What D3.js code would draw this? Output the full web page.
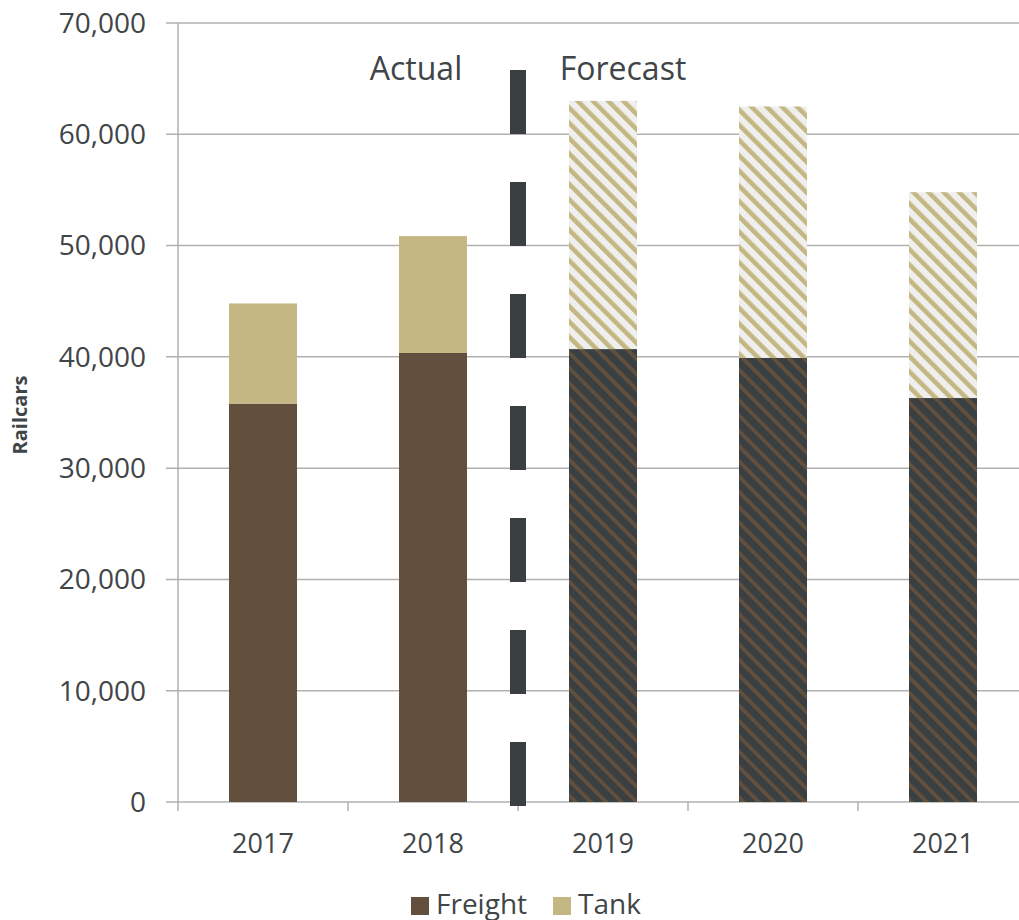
<!DOCTYPE html>
<html>
<head>
<meta charset="utf-8">
<script src="https://cdn.jsdelivr.net/npm/d3@7"></script>
<style>
  html, body { margin: 0; padding: 0; background: #fff; }
  svg { display: block; font-family: "Open Sans", sans-serif; }
</style>
</head>
<body>
<svg id="chart" width="1019" height="920"></svg>
<script>
const years = ["2017", "2018", "2019", "2020", "2021"];
const freight = [35800, 40350, 40700, 39900, 36300];
const tank = [9000, 10500, 22300, 22600, 18500];
const isForecast = [false, false, true, true, true];
const yTicks = [0, 10000, 20000, 30000, 40000, 50000, 60000, 70000];
const seriesNames = ["Freight", "Tank"];

const colFreight = "#634f3d";
const colTank = "#c5b783";
const colDark = "#3a3f42";
const colLight = "#eff0ee";
const textCol = "#404548";
const gridCol = "#b0b0b0";

const svg = d3.select("#chart");
const defs = svg.append("defs");

function stripe(id, bg, fg, w) {
  const s = 10.8;
  const p = defs.append("pattern").attr("id", id)
    .attr("patternUnits", "userSpaceOnUse")
    .attr("width", s).attr("height", s)
    .attr("patternTransform", "rotate(-45)");
  p.append("rect").attr("width", s).attr("height", s).attr("fill", bg);
  p.append("rect").attr("x", 0).attr("width", w).attr("height", s).attr("fill", fg);
}
stripe("hatchFreight", colDark, colFreight, 3.8);
stripe("hatchTank", colLight, colTank, 4.6);

const x = d3.scaleBand().domain(years).range([178, 1028]).paddingInner(0.6).paddingOuter(0.3);
const y = d3.scaleLinear().domain([0, 70000]).range([802, 23]);

// gridlines
svg.append("g").selectAll("line").data(yTicks).join("line")
  .attr("x1", 166).attr("x2", 1019)
  .attr("y1", d => y(d)).attr("y2", d => y(d))
  .attr("stroke", gridCol).attr("stroke-width", 1.5);

// y axis line
svg.append("line").attr("x1", 178).attr("x2", 178).attr("y1", y(70000)).attr("y2", y(0))
  .attr("stroke", gridCol).attr("stroke-width", 1.5);

// y tick labels
svg.append("g").selectAll("text").data(yTicks).join("text")
  .attr("x", 146).attr("y", d => y(d)).attr("dy", "0.35em")
  .attr("text-anchor", "end").attr("font-size", 28).attr("fill", textCol)
  .text(d => d3.format(",")(d));

// x tick marks at band boundaries
const bounds = years.map(d => x(d) - x.step() * x.paddingInner() / 2);
bounds[0] = 178;
svg.append("g").selectAll("line").data(bounds).join("line")
  .attr("x1", d => d).attr("x2", d => d)
  .attr("y1", y(0)).attr("y2", y(0) + 9)
  .attr("stroke", gridCol).attr("stroke-width", 1.5);

// bars
const g = svg.append("g");
years.forEach((yr, i) => {
  const f = isForecast[i];
  g.append("rect")
    .attr("x", x(yr)).attr("width", x.bandwidth())
    .attr("y", y(freight[i])).attr("height", y(0) - y(freight[i]))
    .attr("fill", f ? "url(#hatchFreight)" : colFreight);
  g.append("rect")
    .attr("x", x(yr)).attr("width", x.bandwidth())
    .attr("y", y(freight[i] + tank[i])).attr("height", y(freight[i]) - y(freight[i] + tank[i]))
    .attr("fill", f ? "url(#hatchTank)" : colTank);
});

// x labels
svg.append("g").selectAll("text").data(years).join("text")
  .attr("x", d => x(d) + x.bandwidth() / 2).attr("y", 853)
  .attr("text-anchor", "middle").attr("font-size", 27).attr("fill", textCol)
  .text(d => d);

// actual / forecast divider
const divX = x("2019") - x.step() * x.paddingInner() / 2;
svg.append("line")
  .attr("x1", divX).attr("x2", divX)
  .attr("y1", 806).attr("y2", 70)
  .attr("stroke", colDark).attr("stroke-width", 16)
  .attr("stroke-dasharray", "64 48");

svg.append("text").attr("x", 416).attr("y", 80).attr("text-anchor", "middle")
  .attr("font-size", 32).attr("fill", textCol).text("Actual");
svg.append("text").attr("x", 623).attr("y", 80).attr("text-anchor", "middle")
  .attr("font-size", 32).attr("fill", textCol).text("Forecast");

// y axis title
svg.append("text").attr("transform", "translate(27,415) rotate(-90)")
  .attr("text-anchor", "middle").attr("font-size", 20).attr("font-weight", "bold")
  .attr("fill", textCol).text("Railcars");

// legend
const legend = svg.append("g");
const legX = [411, 553];
const legCol = [colFreight, colTank];
seriesNames.forEach((n, i) => {
  legend.append("rect").attr("x", legX[i]).attr("y", 897).attr("width", 18).attr("height", 18)
    .attr("fill", legCol[i]);
  legend.append("text").attr("x", legX[i] + 25).attr("y", 914)
    .attr("font-size", 28).attr("fill", textCol).text(n);
});
</script>
</body>
</html>
